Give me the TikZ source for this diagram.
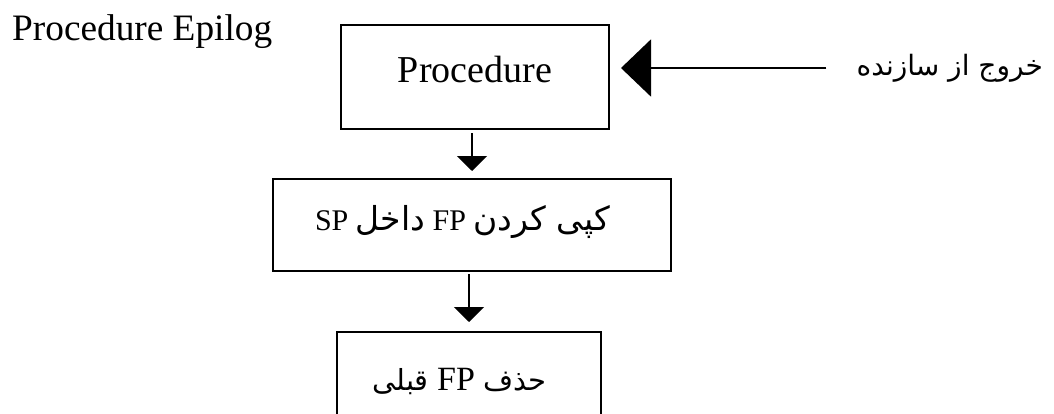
\documentclass[tikz,border=0pt]{standalone}
\usepackage{fontspec}
\setmainfont{Liberation Serif}
\newfontfamily\latinfont{Liberation Serif}
\newfontfamily\arabicfont[Script=Arabic]{DejaVu Sans}
\TeXXeTstate=1
\usetikzlibrary{arrows.meta}
\tikzset{
  boxnode/.style={draw, line width=2pt, rectangle, inner sep=0pt},
  flowarrow/.style={line width=2pt, -{Triangle[width=30pt,length=15pt]}},
  bigarrow/.style={line width=2pt, -{Triangle[width=57pt,length=30pt]}},
}
\begin{document}
\begin{tikzpicture}[x=1pt,y=-1pt]
\useasboundingbox (0,0) rectangle (1054,413);
\clip (0,0) rectangle (1054,413);
\node[anchor=base west, inner sep=0pt, font=\fontsize{37.3}{40}\selectfont] (title) at (12,40) {Procedure Epilog};
\node[boxnode, minimum width=268pt, minimum height=104pt, text height=24pt, text depth=14pt,
      font=\fontsize{38}{40}\selectfont] (proc) at (475,77) {Procedure};
\node[boxnode, minimum width=398pt, minimum height=92pt, text height=20pt, text depth=10pt,
      font=\fontsize{30}{32}\selectfont] (copy) at (472,225)
  {\beginR{\arabicfont\fontsize{33}{35}\selectfont کپی کردن} \beginL{\latinfont FP}\endL{} {\arabicfont\fontsize{33}{35}\selectfont داخل} \beginL{\latinfont SP}\endL\endR\kern19pt\relax};
\node[boxnode, minimum width=264pt, minimum height=90pt, text height=26pt, text depth=0pt,
      font=\fontsize{34}{36}\selectfont] (del) at (469,377)
  {\beginR{\arabicfont\fontsize{29}{31}\selectfont حذف} \beginL{\latinfont FP}\endL{} {\arabicfont\fontsize{29}{31}\selectfont قبلی}\endR\kern19pt\relax};
\node[anchor=east, inner sep=0pt, font=\arabicfont\fontsize{28}{30}\selectfont] (exit) at (1043,68)
  {\beginR خروج از سازنده\endR};
\draw[bigarrow, shorten <=30pt, shorten >=11pt] (exit.west) -- (exit.west -| proc.east);
\draw[flowarrow, shorten <=3pt, shorten >=7pt] (proc.south -| copy.north) -- (copy.north);
\draw[flowarrow, shorten <=2pt, shorten >=9pt] (copy.south -| del.north) -- (del.north);
\end{tikzpicture}
\end{document}
